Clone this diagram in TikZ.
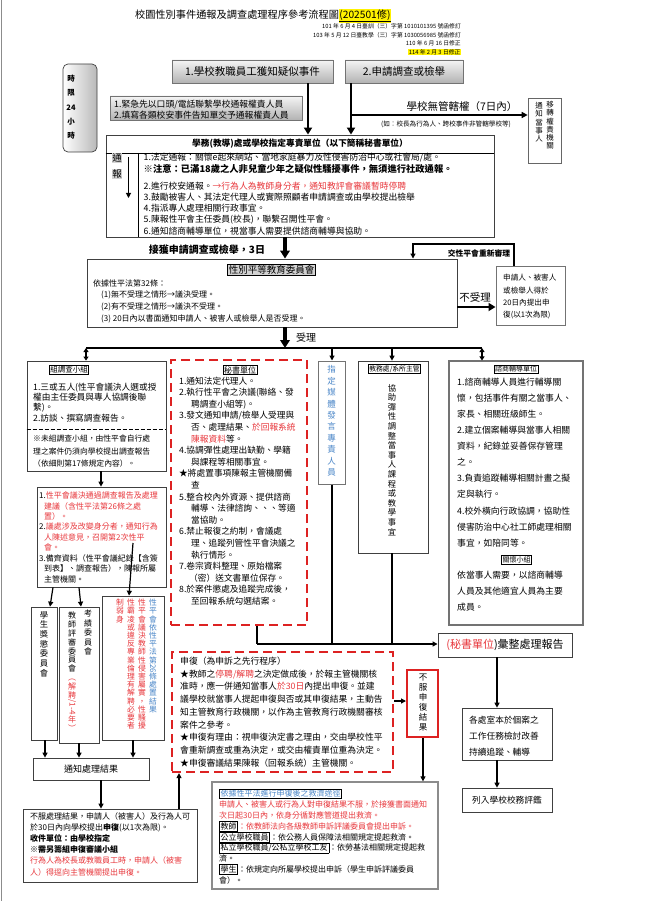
\documentclass[tikz,border=0pt]{standalone}
\usepackage{fontspec}
\usepackage{graphicx}
\setmainfont{Noto Sans CJK TC}
\usetikzlibrary{arrows.meta}
\definecolor{jred}{HTML}{E8383D}
\definecolor{jblue}{HTML}{4A86C8}
\definecolor{dred}{HTML}{DD2222}
\newcommand\fs[2]{\fontsize{#1}{#2}\selectfont}
\newcommand\rd[1]{\textcolor{jred}{#1}}
\newcommand\bu[1]{\textcolor{jblue}{#1}}
\newcommand\tagbox[1]{{\setlength\fboxsep{0.8pt}\setlength\fboxrule{0.6pt}\fbox{#1}}}
\newcommand\hl[1]{{\setlength\fboxsep{0.4pt}\colorbox{yellow}{#1}}}
\newcommand\rot[1]{\rotatebox[origin=c]{-90}{#1}}
\newcommand\BX[7][]{\node[inner sep=0pt,#1,minimum width={#4-#2},minimum height={#5-#3}] (#6) at ({(#2+#4)/2},{(#3+#5)/2}) {#7};}
\begin{document}
\begin{tikzpicture}[x=1pt,y=-1pt,
  bx/.style={draw=black!75,line width=0.7pt},
  gbx/.style={draw=black!55,line width=0.8pt,top color=gray!8,bottom color=gray!60},
  rdash/.style={draw=dred,line width=2.2pt,dash pattern=on 9pt off 5pt},
  tag/.style={draw=black,line width=0.6pt,fill=white,inner sep=0.8pt},
  tx/.style={inner sep=0pt,anchor=west},
  blk/.style={inner sep=0pt,anchor=north west,align=left},
  vt/.style={inner sep=0pt,align=center,anchor=north},
  arr/.style={line width=1.2pt,-{Triangle[length=5pt,width=5pt]}},
  tarr/.style={line width=2.6pt,-{Triangle[length=7pt,width=8pt]}},
  harr/.style={line width=3.6pt,-{Triangle[length=8pt,width=9.5pt]}},
  darr/.style={line width=1.2pt,{Triangle[length=4pt,width=5pt]}-{Triangle[length=4pt,width=5pt]}},
  ln/.style={line width=1.3pt}]
\fill[white] (0,0) rectangle (646,901);
\useasboundingbox (0,0) rectangle (646,901);
\draw[black!45,line width=0.8pt] (1,0) -- (1,901);

% ---------- title and notes
\node[inner sep=0pt,font=\fs{10.2}{12}] (title) at (263,16) {校園性別事件通報及調查處理程序參考流程圖\hl{\underline{(202501修)}}};
\node[anchor=north east,align=right,inner sep=0pt,font=\fs{5.8}{8.7}] (notes) at (461,23.2) {101 年 6 月 4 日臺訓（三）字第 1010101395 號函修訂\\103 年 5 月 12 日臺教學（三）字第 1030056985 號函修訂\\110 年 6 月 16 日修正\\\hl{114 年 2 月 3 日修正}};

% ---------- top row
\BX[bx,rounded corners=5pt,left color=white,middle color=white,right color=gray!55]{63}{64}{97}{152}{tlim}{}
\node[vt,font=\fs{7.5}{14.2}\bfseries] (tlimt) at (71,75) {時\\限\\24\\小\\時};
\BX[gbx,font=\fs{10.5}{12}]{172}{60}{333}{83}{b1}{1.學校教職員工獲知疑似事件}
\BX[gbx,font=\fs{10.5}{12}]{345}{60}{463}{83}{b2}{2.申請調查或檢舉}
\BX[gbx]{110}{96}{302}{120}{gb}{}
\node[blk,font=\fs{8.8}{11}] (gbt) at (114,99.6) {1.緊急先以口頭/電話聯繫學校通報權責人員\\2.填寫各類校安事件告知單交予通報權責人員};
\node[inner sep=0pt,font=\fs{10.5}{12}] (nj) at (462,107) {學校無管轄權（7日內）};
\node[inner sep=0pt,font=\fs{6.6}{8}] (nj2) at (446,124) {(如：校長為行為人、跨校事件非管轄學校等)};
\BX[bx,draw=black!60]{528}{98}{561}{163}{nt}{}
\node[vt,font=\fs{7.5}{8.3}] (ntr) at (550,101) {移\\轉\\權\\責\\機\\關};
\node[vt,font=\fs{7.5}{8.3}] (ntl) at (539,102) {通\\知\\當\\事\\人};

% ---------- reporting box
\BX[bx,line width=0.9pt]{106}{135}{494}{237}{xw}{}
\coordinate (h1) at (0,153);
\coordinate (v1) at (138,0);
\draw[line width=0.8pt] (xw.west|-h1) -- (xw.east|-h1);
\draw[line width=0.8pt] (v1|-h1) -- (xw.south-|v1);
\node[inner sep=0pt,font=\fs{8.7}{10}\bfseries] (xwh) at (300,144) {學務(教導)處或學校指定專責單位（以下簡稱秘書單位）};
\node[fill=gray!35,inner sep=0.6pt,font=\fs{9.5}{11}] (tb1) at (117,158) {通};
\node[fill=gray!35,inner sep=0.6pt,font=\fs{9.5}{11}] (tb2) at (117,174) {報};
\coordinate (ta1) at (128.5,157);
\coordinate (ta2) at (128.5,198);
\draw[line width=1pt,-{Triangle[length=5pt,width=5pt]}] (ta1) -- (ta2);
\begin{scope}[font=\fs{8.8}{10}]
\node[tx] (x1) at (143.5,158) {1.法定通報：關懷e起來網站、當地家庭暴力及性侵害防治中心或社會局/處。};
\node[tx,font=\fs{9.3}{10}\bfseries] (x2) at (143.5,169) {※注意：已滿18歲之人非兒童少年之疑似性騷擾事件，無須進行社政通報。};
\node[tx] (x3) at (143.5,186) {2.進行校安通報。\rd{→行為人為教師身分者，通知教評會審議暫時停聘}};
\node[tx] (x4) at (143.5,197) {3.鼓勵被害人、其法定代理人或實際照顧者申請調查或由學校提出檢舉};
\node[tx] (x5) at (143.5,208) {4.指派專人處理相關行政事宜。};
\node[tx] (x6) at (143.5,219.5) {5.陳報性平會主任委員(校長)，聯繫召開性平會。};
\node[tx] (x7) at (143.5,231) {6.通知諮商輔導單位，視當事人需要提供諮商輔導與協助。};
\end{scope}

\coordinate (c308) at (308,0);
\coordinate (c351) at (351,0);
\draw[tarr] (b1.south-|c308) -- (xw.north-|c308);
\draw[tarr] (b2.south-|c351) -- (xw.north-|c351);
\coordinate (j1) at (351,115);
\draw[line width=1.5pt,-{Triangle[length=6pt,width=6pt]}] (j1) -- (nt.west|-j1);

% ---------- committee
\BX[bx,line width=0.9pt]{87}{259}{457}{327}{gc}{}
\coordinate (c285) at (285,0);
\draw[harr] (xw.south-|c285) -- (gc.north-|c285);
\node[inner sep=0pt,font=\fs{10}{12}\bfseries] (lab1) at (207,250) {接獲申請調查或檢舉，3日};
\node[draw=black,line width=0.8pt,fill=gray!35,inner sep=1pt,font=\fs{9.5}{11}] (gch) at (271.5,270) {性別平等教育委員會};
\node[tx,font=\fs{8}{10}] (g1) at (93,283) {依據性平法第32條：};
\node[blk,font=\fs{8}{11.7}] (g2) at (101,291) {(1)無不受理之情形→議決受理。\\(2)有不受理之情形→議決不受理。\\(3) 20日內以書面通知申請人、被害人或檢舉人是否受理。};
\BX[bx,draw=black!55,line width=1pt]{496}{266}{565}{325}{ap}{}
\node[blk,font=\fs{7.6}{12.3}] (apt) at (503,274.2) {申請人、被害人\\或檢舉人得於\\20日內提出申\\復(以1次為限)};
\node[inner sep=0pt,font=\fs{10.5}{12}] (nsl) at (475,297) {不受理};
\coordinate (y307) at (0,307);
\draw[tarr,line width=2.4pt] (gc.east|-y307) -- (ap.west|-y307);
\coordinate (f1) at (514,244);
\coordinate (f2) at (413,244);
\draw[arr] (ap.north-|f1) -- (f1) -- (f2) -- (gc.north-|f2);
\node[inner sep=0pt,font=\fs{7.8}{9}\bfseries] (lfb) at (479,253.5) {交性平會重新審理};

% ---------- bus
\coordinate (bus1) at (86,348);
\coordinate (bus2) at (482,348);
\draw[harr] (gc.south-|c285) -- (c285|-bus1);
\node[inner sep=0pt,font=\fs{10}{12}] (lsl) at (306,338) {受理};
\draw[ln] (bus1) -- (bus2);

% ---------- investigation group
\BX[bx]{27}{361}{166}{471}{zb}{}
\draw[darr] (bus1) -- (zb.north-|bus1);
\node[tag,font=\fs{7.5}{9}] (zbh) at (69,370) {組調查小組};
\node[blk,font=\fs{8.7}{10.4}] (zb1) at (33,382.6) {1.三或五人(性平會議決人選或授\\權由主任委員與專人協調後聯\\繫)。\\2.訪談、撰寫調查報告。};
\coordinate (y429) at (0,429);
\draw[line width=1pt,dash pattern=on 4pt off 2pt] (zb.west|-y429) -- (zb.east|-y429);
\node[blk,font=\fs{7.8}{12.4}] (zb2) at (33,435) {※未組調查小組，由性平會自行處\\理之案件仍須向學校提出調查報告\\（依細則第17條規定內容）。};
\coordinate (c101) at (101,0);
\BX[bx]{37}{487}{166}{587}{rb}{}
\draw[arr] (zb.south-|c101) -- (rb.north-|c101);
\node[blk,font=\fs{8}{10.3}] (rb1) at (39,492) {1.\rd{性平會議決通過調查報告及處理}\\\hspace*{5pt}\rd{建議（含性平法第26條之處}\\\hspace*{5pt}\rd{置）。}\\2.\rd{議處涉及改變身分者，通知行為}\\\hspace*{5pt}\rd{人陳述意見，召開第2次性平}\\\hspace*{5pt}\rd{會。}};
\node[blk,font=\fs{8}{10.5}] (rb2) at (39,554) {3.備齊資料（性平會議紀錄【含簽\\\hspace*{5pt}到表】、調查報告），陳報所屬\\\hspace*{5pt}主管機關。};

% three committees
\BX[bx]{31}{607}{57}{740}{sj}{}
\BX[bx]{59}{607}{99}{743}{tj}{}
\BX[bx]{102}{596}{164}{740}{tb}{}
\coordinate (a1) at (53,0); \coordinate (a2) at (50,0);
\coordinate (a3) at (79,0); \coordinate (a4) at (81,0);
\coordinate (ls) at (133,543); \coordinate (a5) at (129,0);
\draw[arr] (rb.south-|a1) -- (sj.north-|a2);
\draw[arr] (rb.south-|a3) -- (tj.north-|a4);
\draw[arr] (ls) -- (tb.north-|a5);
\node[vt,font=\fs{8.3}{9.7}] (sjt) at (44,611) {學\\生\\獎\\懲\\委\\員\\會};
\node[vt,font=\fs{8}{9.5}] (tjr) at (88,610) {考\\績\\委\\員\\會};
\node[vt,font=\fs{8}{8.8}] (tjl) at (72,612) {教\\師\\評\\審\\委\\員\\會\\\rd{︵}\\\rd{解}\\\rd{聘}\\\rd{\rot{/1-4}}\\\rd{年}\\\rd{︶}};
\node[vt,font=\fs{7.8}{8.2}] (tbc1) at (153,599) {\bu{性}\\\bu{平}\\\bu{會}\\\bu{依}\\\bu{性}\\\bu{平}\\\bu{法}\\\bu{第}\\\bu{\rot{26}}\\\bu{條}\\\bu{處}\\\bu{置}\\\bu{結}\\\bu{果}};
\node[vt,font=\fs{7.8}{8.2}] (tbc2) at (142,599) {\rd{性}\\\rd{平}\\\rd{會}\\\rd{議}\\\rd{決}\\\rd{教}\\\rd{師}\\\rd{性}\\\rd{侵}\\\rd{害}\\\rd{屬}\\\rd{實}\\\rd{，}\\\rd{性}\\\rd{騷}\\\rd{擾}};
\node[vt,font=\fs{7.8}{8.2}] (tbc3) at (131,599) {\rd{性}\\\rd{霸}\\\rd{凌}\\\rd{或}\\\rd{違}\\\rd{反}\\\rd{專}\\\rd{業}\\\rd{倫}\\\rd{理}\\\rd{有}\\\rd{解}\\\rd{聘}\\\rd{必}\\\rd{要}\\\rd{者}};
\node[vt,font=\fs{7.8}{8.2}] (tbc4) at (120,599) {\rd{制}\\\rd{弱}\\\rd{身}};
\BX[bx,font=\fs{9}{11}]{33}{758}{149}{780}{nr}{通知處理結果}
\coordinate (c45) at (45,0); \coordinate (c79) at (79,0); \coordinate (c133) at (133,0);
\draw[arr] (sj.south-|c45) -- (nr.north-|c45);
\draw[arr] (tj.south-|c79) -- (nr.north-|c79);
\draw[arr] (tb.south-|c133) -- (nr.north-|c133);
\BX[bx]{23}{809}{197}{882}{nf}{}
\draw[arr] (nr.south-|c101) -- (nf.north-|c101);
\node[blk,font=\fs{8}{11.2}] (nft) at (30,812) {不服處理結果，申請人（被害人）及行為人可\\於30日內向學校提出\textbf{申復}(以1次為限)。\\\textbf{收件單位：由學校指定}\\\textbf{※需另籌組申復審議小組}\\\rd{行為人為校長或教職員工時，申請人（被害}\\\rd{人）得逕向主管機關提出申復。}};

% ---------- secretary unit
\BX[rdash]{171}{360}{307}{625}{sb}{}
\node[tag,font=\fs{8}{9}] (sbh) at (240,370) {秘書單位};
\node[blk,font=\fs{8.7}{11.6}] (sbt) at (179,376.6) {1.通知法定代理人。\\2.執行性平會之決議(聯絡、發\\\hspace*{12pt}聘調查小組等)。\\3.發文通知申請/檢舉人受理與\\\hspace*{12pt}否、處理結果、\rd{於回報系統}\\\hspace*{12pt}\rd{陳報資料}等。\\4.協調彈性處理出缺勤、學籍\\\hspace*{12pt}與課程等相關事宜。\\★將處置事項陳報主管機關備\\\hspace*{12pt}查\\5.整合校內外資源、提供諮商\\\hspace*{12pt}輔導、法律諮詢、、、等適\\\hspace*{12pt}當協助。\\6.禁止報復之約制，會議處\\\hspace*{12pt}理、追蹤列管性平會決議之\\\hspace*{12pt}執行情形。\\7.卷宗資料整理、原始檔案\\\hspace*{10pt}（密）送文書單位保存。\\8.於案件懲處及追蹤完成後，\\\hspace*{12pt}至回報系統勾選結案。};

% ---------- media spokesperson, academic affairs, counseling
\BX[bx,draw=black!55,line width=1pt]{318}{361}{345}{484}{zd}{}
\coordinate (c332) at (332,0);
\draw[arr] (c332|-bus1) -- (zd.north-|c332);
\node[vt,font=\fs{8.5}{11.4}] (zdt) at (331.5,365.5) {\bu{指}\\\bu{定}\\\bu{媒}\\\bu{體}\\\bu{發}\\\bu{言}\\\bu{專}\\\bu{責}\\\bu{人}\\\bu{員}};
\BX[bx]{358}{361}{428}{553}{jw}{}
\coordinate (c392) at (392,0);
\draw[arr] (c392|-bus1) -- (jw.north-|c392);
\node[tag,font=\fs{6.8}{8}] (jwh) at (394.5,369) {教務處/系所主管};
\node[vt,font=\fs{8.3}{9.6}] (jwt) at (392,384) {協\\助\\彈\\性\\調\\整\\當\\事\\人\\課\\程\\或\\教\\學\\事\\宜};
\BX[bx,draw=black!55,line width=1.1pt]{449}{361}{583}{625}{zs}{}
\draw[darr] (bus2) -- (zs.north-|bus2);
\node[tag,font=\fs{7}{8}] (zsh) at (516,369) {諮商輔導單位};
\node[blk,font=\fs{8.8}{16.1}] (zst) at (457,377.6) {1.諮商輔導人員進行輔導關\\懷，包括事件有關之當事人、\\家長、相關班級師生。\\2.建立個案輔導與當事人相關\\資料，紀錄並妥善保存管理\\之。\\3.負責追蹤輔導相關計畫之擬\\定與執行。\\4.校外橫向行政協調，協助性\\侵害防治中心社工師處理相關\\事宜，如陪同等。\\\hspace*{44pt}\tagbox{\fs{7}{8}關懷小組}\\依當事人需要，以諮商輔導\\人員及其他適宜人員為主要\\成員。};

% ---------- merge to report
\BX[bx,line width=0.9pt,font=\fs{11}{13}]{438}{633}{572}{657}{hz}{\rd{(秘書單位})彙整處理報告}
\coordinate (m1) at (257,644);
\coordinate (m2) at (332,644);
\coordinate (m3) at (392,644);
\draw[ln] (sb.south-|m1) -- (m1);
\draw[ln] (zd.south-|m2) -- (m2);
\draw[ln] (jw.south-|m3) -- (m3);
\draw[arr,line width=1.3pt] (m1) -- (hz.west|-m1);
\coordinate (c497) at (497,0);
\BX[bx]{462}{708}{552}{760}{ks}{}
\node[blk,font=\fs{8.7}{16}] (kst) at (469,715.6) {各處室本於個案之\\工作任務檢討改善\\持續追蹤、輔導};
\BX[bx,font=\fs{8.7}{10}]{462}{788}{552}{812}{lr}{列入學校校務評鑑}
\draw[arr] (hz.south-|c497) -- (ks.north-|c497);
\draw[arr] (ks.south-|c497) -- (lr.north-|c497);

% ---------- appeal
\BX[rdash]{172}{652}{393}{772}{sf}{}
\node[blk,font=\fs{8.8}{12.75}] (sft) at (180,656.6) {申復（為申訴之先行程序）\\★教師之\rd{停聘/解聘}之決定做成後，於報主管機關核\\准時，應一併通知當事人\rd{於30日}內提出申復。並建\\議學校就當事人提起申復與否或其申復結果，主動告\\知主管教育行政機關，以作為主管教育行政機關審核\\案件之參考。\\★申復有理由：視申復決定書之理由，交由學校性平\\會重新調查或重為決定，或交由權責單位重為決定。\\★申復審議結果陳報（回報系統）主管機關。};
\BX[draw=dred,line width=2pt]{407}{670}{438}{737}{fs}{}
\node[vt,font=\fs{8.5}{10}] (fst) at (423,673.5) {不\\服\\申\\復\\結\\果};
\coordinate (y701) at (0,701);
\draw[arr] (sf.east|-y701) -- (fs.west|-y701);
\coordinate (c179) at (179,0);
\draw[arr] (nf.north-|c179) -- (sf.south-|c179);
\BX[bx,draw=black!45,line width=1.3pt]{212}{782}{438}{889}{jv}{}
\coordinate (c423) at (423,0);
\draw[arr] (fs.south-|c423) -- (jv.north-|c423);
\node[blk,font=\fs{8}{10.8}] (jvt) at (219,788.5) {\tagbox{\bu{依據性平法進行申復後之救濟途徑}}\\\rd{申請人、被害人或行為人對申復結果不服，於接獲書面通知}\\\rd{次日起30日內，依身分循對應管道提出救濟。}\\\tagbox{教師}\rd{：依教師法向各級教師申訴評議委員會提出申訴。}\\\tagbox{公立學校職員}：依公務人員保障法相關規定提起救濟。\\\tagbox{私立學校職員/公私立學校工友}：依勞基法相關規定提起救\\濟。\\\tagbox{學生}：依規定向所屬學校提出申訴（學生申訴評議委員\\會）。};
\end{tikzpicture}
\end{document}
